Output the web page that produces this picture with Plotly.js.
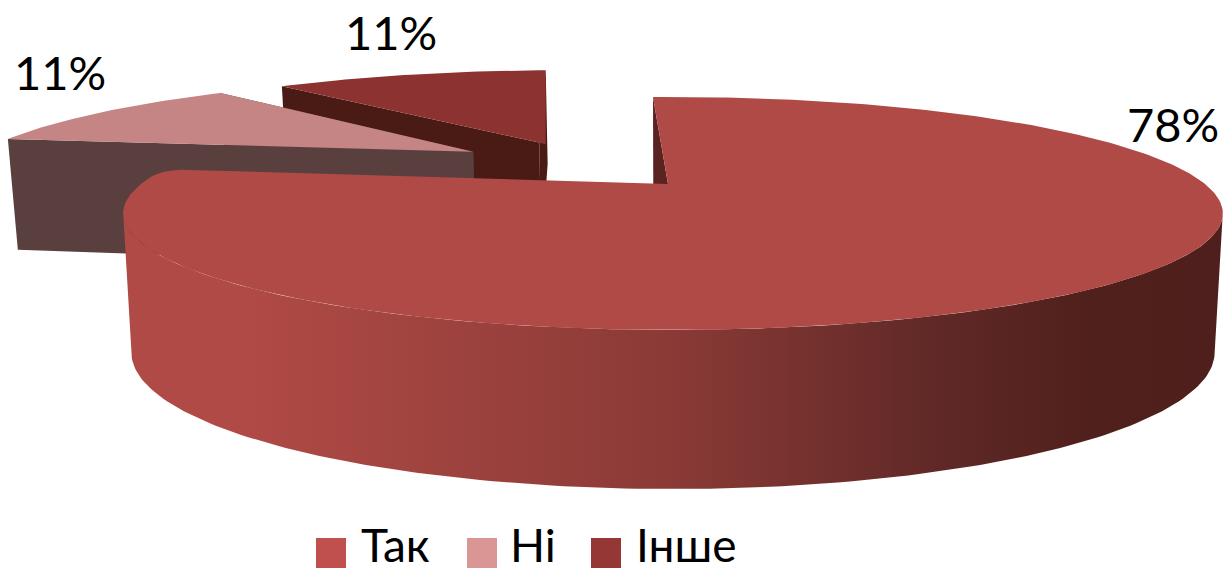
<!DOCTYPE html>
<html><head><meta charset="utf-8">
<script src="https://cdn.plot.ly/plotly-3.0.1.min.js"></script>
<style>html,body{margin:0;padding:0;background:#fff}#c{width:1224px;height:572px}</style>
</head><body><div id="c"></div>
<script>
const categories = ['Так', 'Ні', 'Інше'];
const values = [78, 11, 11];
const topColors = ['#b04a46', '#c58585', '#8c3230'];
const swatchColors = ['#c0504d', '#d99694', '#953735'];
const cutColors = ['#5a2320', '#5a3f3f', '#4a1a14'];
const wallStops = [[0, '#b04a46'], [0.11, '#b04a46'], [0.5, '#8a3a36'], [0.75, '#5e2826'], [0.88, '#50201c'], [1, '#4e1f1c']];
const labelX = [1173, 60, 391];
const labelY = [124, 72, 32];
const legendMarkX = [331, 482, 606];
const legendTextX = [359, 508, 634];
const explodeU = [0, -0.406, -0.278];
const explodeV = [0, -0.32, -0.42];
const apexShiftU = [-0.0094, 0, 0];

// projection of the pie plane to the plot's axes
const cx = 673, cy = 184, Rx = 532, Ry = 109, p = 0.253, startDeg = -2.7;
function proj(u, v) {
  const s = 1 / (1 - p * v);
  return [cx + Rx * u * s, cy + Ry * v * s, s];
}
function lower(pt) {
  return [cx + (pt[0] - cx) * 0.985, pt[1] + 14 + 108 * pt[2]];
}
function lowerFront(pt) {
  return [cx + (pt[0] - cx) * 0.985, pt[1] + 60 + 74 * pt[2]];
}
function rim(i, deg) {
  const a = deg * Math.PI / 180;
  return proj(Math.sin(a) + explodeU[i], -Math.cos(a) + explodeV[i]);
}
function apex(i) {
  return proj(explodeU[i] + apexShiftU[i], explodeV[i]);
}
const total = values.reduce((a, b) => a + b, 0);
let acc = startDeg;
const spans = values.map(v => { const s = [acc, acc + v / total * 360]; acc = s[1]; return s; });

function poly(pts, color, name) {
  return { type: 'scatter', mode: 'lines', x: pts.map(q => q[0]), y: pts.map(q => q[1]),
    fill: 'toself', fillcolor: color, line: { width: 0, color: color }, hoverinfo: 'skip', showlegend: false, name: name };
}
function arc(i, a, b) {
  const n = Math.max(8, Math.ceil(Math.abs(b - a)));
  const out = [];
  for (let k = 0; k <= n; k++) out.push(rim(i, a + (b - a) * k / n));
  return out;
}
function cutFace(i, deg) {
  const r = rim(i, deg), c = apex(i);
  return poly([r, c, lower(c), lower(r), r], cutColors[i], categories[i] + ' side');
}
function sliceTop(i) {
  const c = apex(i);
  return poly([c].concat(arc(i, spans[i][0], spans[i][1])).concat([c]), topColors[i], categories[i]);
}
// big slice: far-left corner softened with a quadratic blend
function bigTop() {
  const c = apex(0);
  const end = spans[0][1];
  const pts = arc(0, spans[0][0], end - 4);
  const a = pts[pts.length - 1], k = rim(0, end);
  const t = 24 / Math.hypot(c[0] - k[0], c[1] - k[1]);
  const b = [k[0] + (c[0] - k[0]) * t, k[1] + (c[1] - k[1]) * t];
  for (let j = 1; j <= 8; j++) {
    const w = j / 8;
    pts.push([(1 - w) * (1 - w) * a[0] + 2 * w * (1 - w) * k[0] + w * w * b[0],
              (1 - w) * (1 - w) * a[1] + 2 * w * (1 - w) * k[1] + w * w * b[1]]);
  }
  return poly([c].concat(pts).concat([c]), topColors[0], categories[0]);
}

const traces = [];
traces.push(cutFace(2, spans[2][0]));
traces.push(cutFace(2, spans[2][1]));
// dark slice top keeps a vertical right edge down to the apex height
(function () {
  const c = apex(2);
  const arcPts = arc(2, spans[2][0], spans[2][1]);
  const last = arcPts[arcPts.length - 1];
  traces.push(poly([c].concat(arcPts).concat([[last[0], c[1] + 2], c]), topColors[2], categories[2]));
})();
traces.push(cutFace(1, spans[1][0]));
traces.push(cutFace(1, spans[1][1]));
traces.push(sliceTop(1));
traces.push(cutFace(0, spans[0][0]));
// front wall of the large slice
const front = arc(0, 104, 256);
const wall = poly(front.concat(front.slice().reverse().map(lowerFront)).concat([front[0]]), '#8a3a36', categories[0] + ' wall');
delete wall.fillcolor;
wall.fillgradient = { type: 'horizontal', start: 125, stop: 1224, colorscale: wallStops };
traces.push(wall);
traces.push(bigTop());

categories.forEach((c, i) => traces.push({
  type: 'scatter', mode: 'markers', x: [legendMarkX[i]], y: [553], name: c, showlegend: false, hoverinfo: 'skip',
  marker: { symbol: 'square', size: 30, color: swatchColors[i], line: { width: 0 } }
}));

const annotations = [];
values.forEach((v, i) => annotations.push({
  x: labelX[i], y: labelY[i], xref: 'x', yref: 'y', text: v + '%', showarrow: false,
  xanchor: 'center', yanchor: 'middle', font: { family: 'Lato, Noto Sans, sans-serif', size: 47, color: '#000' }
}));
categories.forEach((c, i) => annotations.push({
  x: legendTextX[i], y: 544, xref: 'x', yref: 'y', text: c, showarrow: false,
  xanchor: 'left', yanchor: 'middle', font: { family: 'Lato, Noto Sans, sans-serif', size: 46, color: '#000' }
}));

Plotly.newPlot('c', traces, {
  width: 1224, height: 572, margin: { l: 0, r: 0, t: 0, b: 0 },
  paper_bgcolor: '#fff', plot_bgcolor: '#fff', showlegend: false,
  xaxis: { range: [0, 1224], visible: false, fixedrange: true },
  yaxis: { range: [572, 0], visible: false, fixedrange: true },
  annotations: annotations
}, { displayModeBar: false, staticPlot: true });
</script></body></html>
